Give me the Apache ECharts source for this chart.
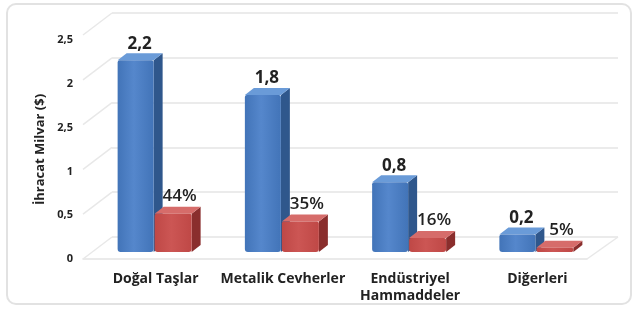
<!DOCTYPE html>
<html>
<head>
<meta charset="utf-8">
<script src="https://cdn.jsdelivr.net/npm/echarts@6/dist/echarts.min.js"></script>
<style>
  html, body { margin: 0; padding: 0; background: #fff; }
  #chart { width: 637px; height: 313px; }
</style>
</head>
<body>
<div id="chart"></div>
<script>
var categories = ['Doğal Taşlar', 'Metalik Cevherler', 'Endüstriyel\nHammaddeler', 'Diğerleri'];
var exportValues = [2.2, 1.8, 0.8, 0.2];     // milyar $
var shareValues = [44, 35, 16, 5];           // %
var yTickValues = [0, 0.5, 1, 1.5, 2, 2.5];
var yTickLabels = ['0', '0,5', '1', '2,5', '2', '2,5'];

var FONT = '"Open Sans", "Noto Sans", sans-serif';
var DX = 9, DY = -7; // bar depth

// draws a small 3d box from 0 to val at category idx
function box(api, idx, val, xOff, w, c) {
    var base = api.coord([idx, 0]);
    var top = api.coord([idx, val]);
    var x0 = base[0] + xOff, x1 = x0 + w;
    var y0 = base[1], y1 = top[1];
    return [
        { type: 'polygon', shape: { points: [[x1, y1], [x1 + DX, y1 + DY], [x1 + DX, y0 + DY], [x1, y0]] },
          style: { fill: c.side } },
        { type: 'polygon', shape: { points: [[x0, y1], [x0 + DX, y1 + DY], [x1 + DX, y1 + DY], [x1, y1]] },
          style: { fill: c.top } },
        { type: 'rect', shape: { x: x0, y: y1, width: w, height: y0 - y1, r: [2, 2, 3, 3] },
          style: { fill: new echarts.graphic.LinearGradient(0, 0, 1, 0, [
              { offset: 0, color: c.front1 }, { offset: 0.45, color: c.front2 }, { offset: 1, color: c.front1 }]) } }
    ];
}

var blue = { front1: '#4274b8', front2: '#5587cc', side: '#2f578c', top: '#6a9bd8' };
var red = { front1: '#bf4846', front2: '#cc5654', side: '#8a2e2d', top: '#d66c6a' };

var myChart = echarts.init(document.getElementById('chart'));

option = {
    backgroundColor: '#fff',
    animation: false,
    graphic: [{
        type: 'rect', left: 6, top: 3, z: -10,
        shape: { width: 624, height: 300, r: 9 },
        style: { fill: '#fff', stroke: '#e2e2e2', lineWidth: 2 }
    }],
    grid: [
        { left: 92, right: 36, top: 34, bottom: 61 },   // bars
        { left: 112, right: 19, top: 13, bottom: 76 },  // back wall
        { left: 83, right: 50, top: 40, bottom: 54 }    // front labels
    ],
    xAxis: [
        { gridIndex: 0, type: 'category', data: categories,
          axisLine: { show: false }, axisTick: { show: false },
          axisLabel: { interval: 0, hideOverlap: false, margin: 19, color: '#222', fontFamily: FONT,
              fontWeight: 'bold', fontSize: 14, lineHeight: 17 } },
        { gridIndex: 1, type: 'value', min: 0, max: 1, show: false },
        { gridIndex: 2, type: 'value', min: 0, max: 1,
          axisLine: { show: true, lineStyle: { color: '#e4e4e4', width: 1.5 } },
          axisTick: { show: false }, axisLabel: { show: false }, splitLine: { show: false } }
    ],
    yAxis: [
        { gridIndex: 0, type: 'value', min: 0, max: 2.5, show: false },
        { gridIndex: 1, type: 'value', min: 0, max: 2.5, interval: 0.5,
          axisLine: { show: false }, axisTick: { show: false }, axisLabel: { show: false },
          splitLine: { lineStyle: { color: '#e4e4e4', width: 1.5 } } },
        { gridIndex: 2, type: 'value', min: 0, max: 2.5, interval: 0.5,
          axisLine: { show: false }, axisTick: { show: false }, splitLine: { show: false },
          axisLabel: { margin: 10, color: '#222', fontFamily: FONT, fontWeight: 'bold', fontSize: 11,
              formatter: function (v) { return yTickLabels[yTickValues.indexOf(v)]; } },
          name: 'İhracat Milvar ($)', nameLocation: 'middle', nameGap: 33,
          nameTextStyle: { color: '#222', fontFamily: FONT, fontWeight: 'bold', fontSize: 13 } }
    ],
    series: [
        {   // perspective lines from wall to front
            type: 'custom', xAxisIndex: 1, yAxisIndex: 1, z: 1, silent: true,
            data: yTickValues.map(function (v) { return [0, v]; }),
            renderItem: function (params, api) {
                var p = api.coord([0, api.value(1)]);
                var items = [{ type: 'line', shape: { x1: p[0], y1: p[1], x2: p[0] - 29, y2: p[1] + 22 },
                    style: { stroke: '#e8e8e8', lineWidth: 1.5 } }];
                if (api.value(1) === 0) {
                    var q = api.coord([1, 0]);
                    items.push({ type: 'line', shape: { x1: q[0], y1: q[1], x2: q[0] - 31, y2: q[1] + 22 },
                        style: { stroke: '#e8e8e8', lineWidth: 1.5 } });
                }
                return { type: 'group', children: items };
            }
        },
        {
            name: 'İhracat', type: 'custom', xAxisIndex: 0, yAxisIndex: 0, z: 5,
            data: exportValues.map(function (v, i) { return [i, v]; }),
            renderItem: function (params, api) {
                var idx = api.value(0), v = api.value(1);
                var items = box(api, idx, v, -38, 36, blue);
                var top = api.coord([idx, v]);
                var base = api.coord([idx, 0]);
                items.push({ type: 'text', style: {
                    text: String(v).replace('.', ','), x: base[0] - 16, y: top[1] + DY - 1,
                    align: 'center', verticalAlign: 'bottom', fill: '#222',
                    font: 'bold 17px ' + FONT } });
                return { type: 'group', children: items };
            }
        },
        {
            name: 'Pay', type: 'custom', xAxisIndex: 0, yAxisIndex: 0, z: 6,
            data: shareValues.map(function (v, i) { return [i, v / 100]; }),
            renderItem: function (params, api) {
                var idx = api.value(0), v = api.value(1);
                var items = box(api, idx, v, -1, 37, red);
                var top = api.coord([idx, v]);
                var base = api.coord([idx, 0]);
                items.push({ type: 'text', style: {
                    text: shareValues[idx] + '%', x: base[0] + 24, y: top[1] + DY - 2,
                    align: 'center', verticalAlign: 'bottom', fill: '#222',
                    font: '600 17px ' + FONT } });
                return { type: 'group', children: items };
            }
        }
    ]
};

myChart.setOption(option);
</script>
</body>
</html>
